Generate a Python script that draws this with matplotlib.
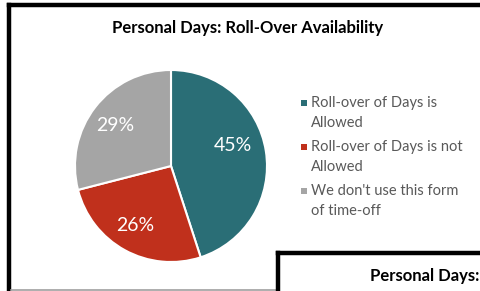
import matplotlib
matplotlib.use("Agg")
import matplotlib.pyplot as plt
from matplotlib.patches import Rectangle
from matplotlib.lines import Line2D

title = "Personal Days: Roll-Over Availability"
categories = ["Roll-over of Days is\nAllowed",
              "Roll-over of Days is not\nAllowed",
              "We don't use this form\nof time-off"]
values = [45, 26, 29]
colors = ["#2A6E76", "#C0301C", "#A5A5A5"]
second_title = "Personal Days:"

# label placement inside the pie (fraction of radius), like the original's best fit
label_pos = [(0.65, 0.21), (-0.375, -0.615), (-0.583, 0.417)]

W, H = 481, 291
fig = plt.figure(figsize=(W / 100, H / 100), dpi=100)
fig.patch.set_facecolor("white")
font = "Lato"

# pie axes: center (171,166), radius 96
cx, cy, r = 171, 166, 96
ax = fig.add_axes([(cx - r) / W, 1 - (cy + r) / H, 2 * r / W, 2 * r / H])
wedges, texts, autotexts = ax.pie(
    values, colors=colors, startangle=90, counterclock=False,
    autopct=lambda p: f"{p:.0f}%", pctdistance=0.68,
    wedgeprops=dict(edgecolor="white", linewidth=1.5),
    textprops=dict(color="white", fontsize=14, family=font))
for t, p in zip(autotexts, label_pos):
    t.set_position(p)
ax.set_aspect("equal")
ax.set_xlim(-1.0, 1.0)
ax.set_ylim(-1.0, 1.0)

# title
fig.text(248 / W, 1 - 28 / H, title, ha="center", va="center",
         fontsize=12, fontweight="bold", family=font, color="black")

# legend (manual)
y0 = 103
for i, (lab, col) in enumerate(zip(categories, colors)):
    y = y0 + i * 44
    fig.patches.append(Rectangle((301 / W, 1 - (y + 3) / H), 6 / W, 6 / H,
                                 transform=fig.transFigure, facecolor=col,
                                 edgecolor="none"))
    l1, l2 = lab.split("\n")
    fig.text(311 / W, 1 - y / H, l1, ha="left", va="center",
             fontsize=10.5, family=font, color="#595959")
    fig.text(311 / W, 1 - (y + 20) / H, l2, ha="left", va="center",
             fontsize=10.5, family=font, color="#595959")

# chart borders
bk = dict(transform=fig.transFigure, color="black", lw=3.2, solid_capstyle="projecting")
fig.add_artist(Line2D([9 / W, 9 / W], [0, 1 - 5 / H], **bk))
fig.add_artist(Line2D([9 / W, 1.01], [1 - 5 / H, 1 - 5 / H], **bk))
fig.add_artist(Line2D([11 / W, 276 / W], [1 - 290 / H, 1 - 290 / H],
                      transform=fig.transFigure, color="#A0A0A0", lw=1.2))
# second chart box
fig.add_artist(Line2D([278 / W, 278 / W], [0, 1 - 253 / H], **bk))
fig.add_artist(Line2D([278 / W, 1.01], [1 - 253 / H, 1 - 253 / H], **bk))
fig.patches.append(Rectangle((280 / W, 0), 1, 1 - 255 / H, transform=fig.transFigure,
                             facecolor="white", edgecolor="none"))
fig.text(370 / W, 1 - 276 / H, second_title, ha="left", va="center",
         fontsize=12, fontweight="bold", family=font, color="black")

fig.savefig("out.png", dpi=100, facecolor="white")
